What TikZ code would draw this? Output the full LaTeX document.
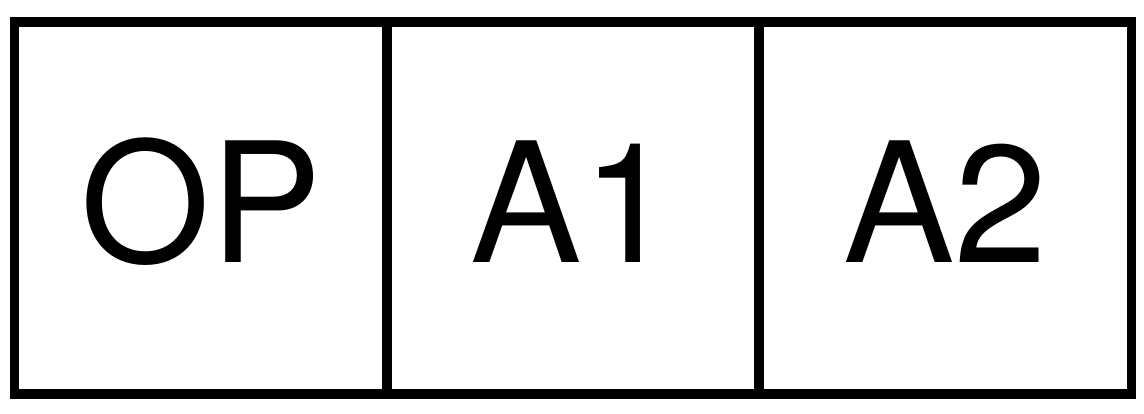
\documentclass[tikz,border=0pt]{standalone}
\usepackage{fontspec}
\setmainfont{TeX Gyre Heros}
\begin{document}
\begin{tikzpicture}[x=1pt,y=-1pt,
  cell/.style={draw=black, line width=9.5pt, minimum width=372.3pt, minimum height=372pt,
    inner sep=0pt, text height=108pt, text depth=0pt,
    font=\fontsize{167}{200}\selectfont}]
\useasboundingbox (0,0) rectangle (1144,413);
\node[cell] (op) at (200.75,208) {OP};
\node[cell] (a1) at (573,208) {A1};
\node[cell] (a2) at (945.25,208) {A2};
\end{tikzpicture}
\end{document}
